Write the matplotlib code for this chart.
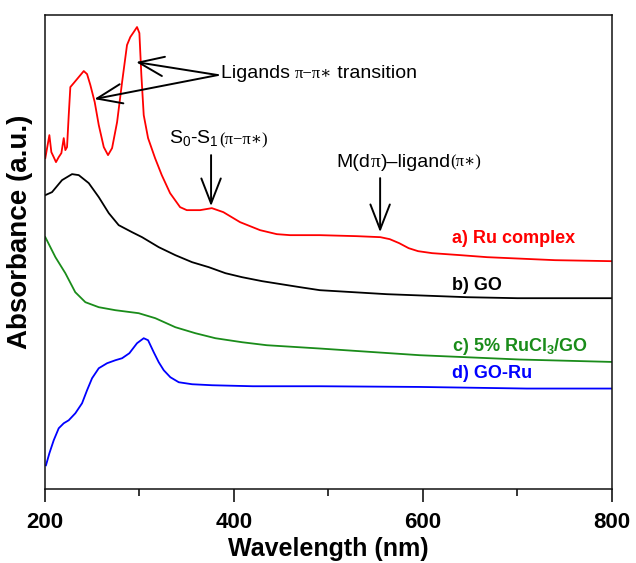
import numpy as np
import matplotlib
matplotlib.use("Agg")
import matplotlib.pyplot as plt
from matplotlib.ticker import MultipleLocator

plt.rcParams['font.family'] = ['Liberation Sans', 'DejaVu Sans']
plt.rcParams['mathtext.default'] = 'regular'

# spectra (arbitrary absorbance units, offset traces)
wl_a = [200.3, 204.6, 206.7, 209.2, 211.6, 214.5, 217.3, 219.8, 221.5, 223.3, 225.1, 226.8,
        230.4, 235.7, 241, 244.5, 248, 252.6, 256.9, 262.2, 266.7, 271, 276.3, 281.6,
        286.8, 290.3, 293.9, 297.4, 299.9, 302, 304.5, 309.1, 316.5, 323.6, 332.4, 343,
        350.1, 364.2, 376.6, 388.8, 406.5, 427.7, 445.4, 459.5, 491, 530, 555, 565, 575,
        585, 595, 610, 640, 668, 740, 800]
abs_a = [331, 354, 337, 332, 327, 332, 336, 351, 339, 342, 374, 402,
         406, 412, 418, 415, 404, 387, 364, 342, 334, 341, 367, 407,
         444, 452, 457, 462, 456, 414, 374, 351, 331, 314, 296, 282,
         279, 279, 281, 277, 267, 259, 255, 254, 254, 253, 252, 250, 246,
         241, 238, 236, 234, 232, 229, 228]

wl_b = [200.3, 207.4, 218, 228.6, 235.7, 246.3, 256.9, 267.5, 278, 292.1, 302.7, 320.4,
        338, 355.7, 373.4, 391, 408.6, 430, 450, 470, 491, 562, 646.6, 700, 800]
abs_b = [294, 297, 309, 315, 314, 306, 292, 276, 264, 257, 252, 242,
         234, 227, 222, 216, 212, 208, 205, 202, 199, 195, 192, 191, 191]

wl_c = [200.3, 211, 221.5, 232, 242.7, 256.9, 274.5, 299.2, 316.8, 338, 359.2, 380.4,
        408.6, 434.8, 491, 597, 703, 800]
abs_c = [252, 232, 216, 197, 187, 182, 179, 176, 171, 162, 156, 151,
         147, 144, 140.7, 134, 129.7, 127.3]

wl_d = [201, 204.6, 209.2, 214.5, 219.8, 225.1, 232.1, 239.2, 244.5, 249.8, 256.9, 265.7,
        274.5, 281.6, 289.3, 297.4, 304.5, 309.1, 315.1, 320.4, 325.7, 332.7, 341.6, 355.7,
        376.9, 420, 491, 597, 710, 800]
abs_d = [24, 36, 49, 61, 66, 69, 76, 86, 99, 111, 121, 126,
         129, 131, 136, 146, 151, 149, 137, 127, 119, 112, 107, 105,
         104, 103, 103, 102.3, 100.7, 100.7]

labels = ["a) Ru complex", "b) GO", "c) 5% RuCl$_3$/GO", "d) GO-Ru"]
colors = ['#ff0000', '#000000', '#1a8c1a', '#0000ff']
label_y = [251, 204, 143, 116]

fig = plt.figure(figsize=(6.36, 5.63), dpi=100)
ax = fig.add_axes([0.0708, 0.1309, 0.891, 0.8424])

for wl, ab, c in zip([wl_a, wl_b, wl_c, wl_d], [abs_a, abs_b, abs_c, abs_d], colors):
    ax.plot(wl, ab, color=c, lw=1.3)

for lab, c, yy in zip(labels, colors, label_y):
    ax.text(631, yy, lab, color=c, fontsize=13, fontweight='bold', va='center', ha='left')

ax.set_xlim(200, 800)
ax.set_ylim(0, 474)
ax.set_yticks([])
ax.xaxis.set_major_locator(MultipleLocator(200))
ax.xaxis.set_minor_locator(MultipleLocator(100))
ax.tick_params(axis='x', which='major', direction='out', length=9.5, width=1.1, pad=7,
               labelsize=16)
ax.tick_params(axis='x', which='minor', direction='out', length=5, width=1.1)
for t in ax.get_xticklabels():
    t.set_fontweight('bold')
for s in ax.spines.values():
    s.set_linewidth(1.1)
    s.set_color('#111111')

ax.set_xlabel("Wavelength (nm)", fontsize=18, fontweight='bold', labelpad=3)
ax.set_ylabel("Absorbance (a.u.)", fontsize=20, fontweight='bold')
ax.yaxis.set_label_coords(-0.022, 0.543)

# annotations
serif = ['Liberation Serif', 'DejaVu Serif']
arrow = dict(arrowstyle='->,head_length=0.9,head_width=0.35', lw=1.4, color='k',
             mutation_scale=20, shrinkA=0, shrinkB=0)

t1 = ax.text(386, 416, "Ligands ", fontsize=14, va='center', ha='left')
t2 = ax.annotate("π−π∗", xy=(1, 0), xycoords=t1, va='bottom', ha='left',
                 fontsize=12, family=serif)
ax.annotate(" transition", xy=(1, 0), xycoords=t2, va='bottom', ha='left', fontsize=14)
ax.annotate('', xy=(296.4, 427), xytext=(383, 414), arrowprops=arrow)
ax.annotate('', xy=(252.2, 390), xytext=(383, 414), arrowprops=arrow)

s1 = ax.text(331.5, 351, "S$_0$-S$_1$", fontsize=14, va='center', ha='left')
ax.annotate("(π−π∗)", xy=(1, 0), xycoords=s1, va='bottom', ha='left',
            fontsize=12, family=serif)
ax.annotate('', xy=(375.8, 283), xytext=(375.8, 334), arrowprops=arrow)

m1 = ax.text(508.9, 327, "M(d", fontsize=14, va='center', ha='left')
m2 = ax.annotate("π", xy=(1, 0), xycoords=m1, va='bottom', ha='left',
                 fontsize=14, family=serif)
m3 = ax.annotate(")–ligand", xy=(1, 0), xycoords=m2, va='bottom', ha='left', fontsize=14)
ax.annotate("(π∗)", xy=(1, 0), xycoords=m3, va='bottom', ha='left',
            fontsize=12, family=serif)
ax.annotate('', xy=(554.8, 257), xytext=(554.8, 311), arrowprops=arrow)

fig.savefig("out.png", dpi=100)
